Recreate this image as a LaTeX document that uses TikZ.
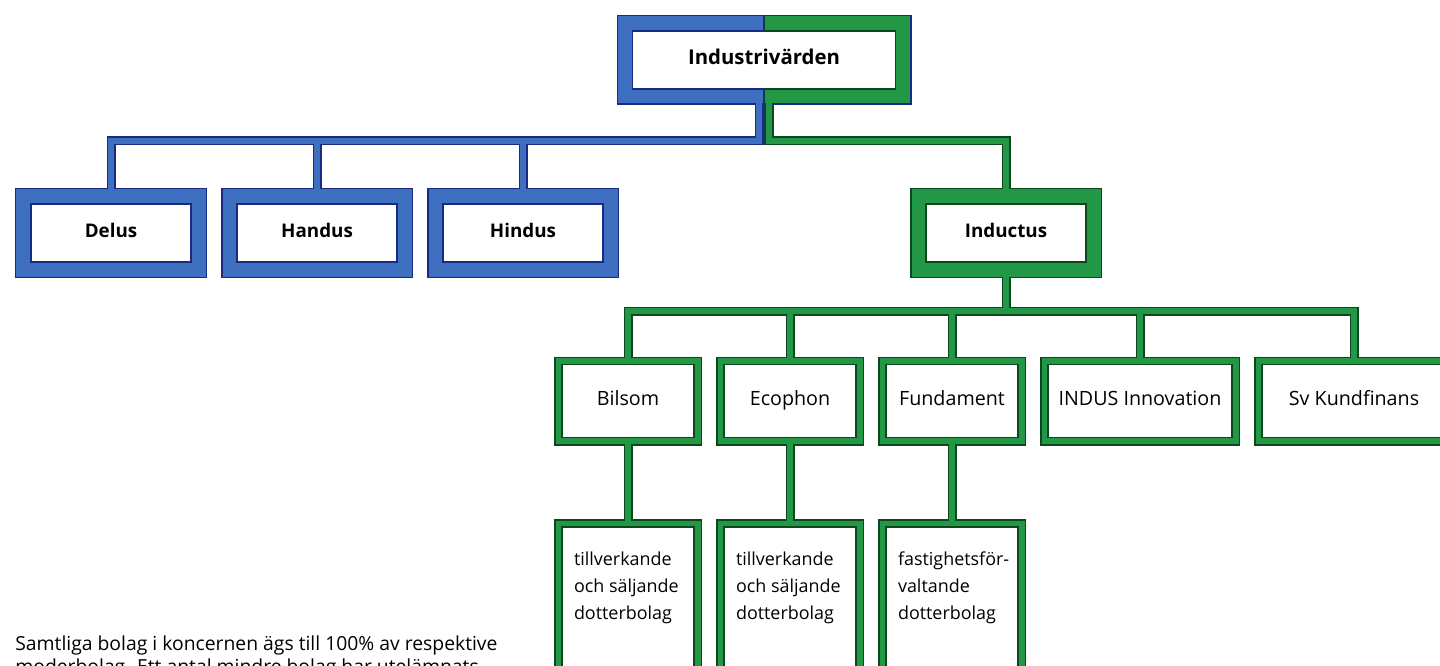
\documentclass[tikz,border=0pt]{standalone}
\usepackage{fontspec}
\setmainfont{Open Sans}
\usetikzlibrary{positioning}
\definecolor{bluefill}{RGB}{62,111,192}
\definecolor{blueedge}{RGB}{24,42,132}
\definecolor{greenfill}{RGB}{34,152,70}
\definecolor{greenedge}{RGB}{12,72,30}
\pgfdeclarelayer{rims}
\pgfdeclarelayer{bands}
\pgfsetlayers{rims,bands,main}

% connector paths, drawn twice (dark rim, then coloured band)
\newcommand{\bluelinks}{([xshift=-1mm]top.south) -- ++(0,52) coordinate (bb) -| (delus.north)
  (handus.north) -- (handus.north |- bb)
  (hindus.north) -- (hindus.north |- bb)}
\newcommand{\greenlinks}{([xshift=1mm]top.south) -- ++(0,52) -| (inductus.north)
  (inductus.south) -- ++(0,49) coordinate (gb)
  (bilsom.north) |- (gb) -| (sv.north)
  (ecophon.north) -- (ecophon.north |- gb)
  (fundament.north) -- (fundament.north |- gb)
  (innovation.north) -- (innovation.north |- gb)
  (bilsom.south) -- (bilsomsub.north)
  (ecophon.south) -- (ecophonsub.north)
  (fundament.south) -- (fundsub.north)}

\begin{document}
\begin{tikzpicture}[
    x=0.2mm, y=-0.2mm,
    box/.style={fill=white, line width=0.3mm, outer sep=0pt, inner sep=0pt},
    onerow/.style={box, text height=0.75em, text depth=0.25em},
    headbox/.style={onerow, minimum width=52.6mm, minimum height=11.6mm, font=\bfseries\fontsize{11.6}{13}\selectfont},
    bluebox/.style={onerow, draw=blueedge, minimum width=32mm, minimum height=11.6mm, font=\bfseries\fontsize{10.7}{12}\selectfont},
    greenbox/.style={bluebox, draw=greenedge},
    unitbox/.style={onerow, draw=greenedge, minimum width=26.4mm, minimum height=14.6mm, font=\fontsize{11.2}{13}\selectfont},
    widebox/.style={unitbox, minimum width=36.8mm},
    subbox/.style={box, draw=greenedge, minimum width=26.4mm, inner xsep=2.2mm, inner ysep=5mm,
      font=\fontsize{10.2}{15.4}\selectfont,
      execute at begin node={\begin{minipage}[t][20mm][t]{21.6mm}\raggedright},
      execute at end node={\end{minipage}}},
    note/.style={anchor=north west, align=left, inner sep=0pt, font=\fontsize{11}{13.5}\selectfont},
    thickrim/.style={line width=6.4mm}, thickband/.style={line width=5.8mm},
    thinrim/.style={line width=3.2mm}, thinband/.style={line width=2.6mm},
    linkrim/.style={line width=1.8mm}, linkband/.style={line width=1.2mm}
]
\useasboundingbox (0,0) rectangle (1440,665);
\clip (0,0) rectangle (1440,665);

\node[headbox] (top) at (764,60) {Industrivärden};
\draw[blueedge, line width=0.3mm] (top.north) -| (top.south west) -- (top.south);
\draw[greenedge, line width=0.3mm] (top.north) -| (top.south east) -- (top.south);

\node[bluebox] (delus) at (111,233) {Delus};
\node[bluebox, right=9.2mm of delus] (handus) {Handus};
\node[bluebox, right=9.2mm of handus] (hindus) {Hindus};
\node[greenbox] (inductus) at (1006,233) {Inductus};

\node[unitbox] (bilsom) at (628,401) {Bilsom};
\node[unitbox, right=6mm of bilsom] (ecophon) {Ecophon};
\node[unitbox, right=6mm of ecophon] (fundament) {Fundament};
\node[widebox, right=6mm of fundament] (innovation) {INDUS Innovation};
\node[widebox, right=6mm of innovation] (sv) {Sv Kundfinans};

\node[subbox, below=17.9mm of bilsom] (bilsomsub) {tillverkande\\och säljande\\dotterbolag};
\node[subbox, below=17.9mm of ecophon] (ecophonsub) {tillverkande\\och säljande\\dotterbolag};
\node[subbox, below=17.9mm of fundament] (fundsub) {\mbox{fastighetsför-}\\valtande\\dotterbolag};

\node[note] (note) at (15,635) {Samtliga bolag i koncernen ägs till 100\% av respektive\\moderbolag. Ett antal mindre bolag har utelämnats.};

% dark rims
\begin{pgfonlayer}{rims}
  \foreach \n in {top,delus,handus,hindus}
    \draw[blueedge, thickrim] (\n.north west) rectangle (\n.south east);
  \draw[greenedge, thickrim] (inductus.north west) rectangle (inductus.south east);
  \foreach \n in {bilsom,ecophon,fundament,innovation,sv,bilsomsub,ecophonsub,fundsub}
    \draw[greenedge, thinrim] (\n.north west) rectangle (\n.south east);
  \draw[blueedge, linkrim] \bluelinks;
  \draw[greenedge, linkrim] \greenlinks;
\end{pgfonlayer}

% coloured bands
\begin{pgfonlayer}{bands}
  \foreach \n in {top,delus,handus,hindus}
    \draw[bluefill, thickband] (\n.north west) rectangle (\n.south east);
  \begin{scope}
    \clip ([yshift=5mm]top.north) rectangle ([shift={(5mm,-5mm)}]top.south east);
    \draw[greenfill, thickband] (top.north west) rectangle (top.south east);
  \end{scope}
  \draw[greenfill, thickband] (inductus.north west) rectangle (inductus.south east);
  \foreach \n in {bilsom,ecophon,fundament,innovation,sv,bilsomsub,ecophonsub,fundsub}
    \draw[greenfill, thinband] (\n.north west) rectangle (\n.south east);
  \draw[bluefill, linkband] \bluelinks;
  \draw[greenfill, linkband] \greenlinks;
  \draw[blueedge!50!greenedge, line width=0.5mm] ([yshift=3.2mm]top.north) -- (top.south |- bb) -- ++(0,4);
\end{pgfonlayer}
\end{tikzpicture}
\end{document}
